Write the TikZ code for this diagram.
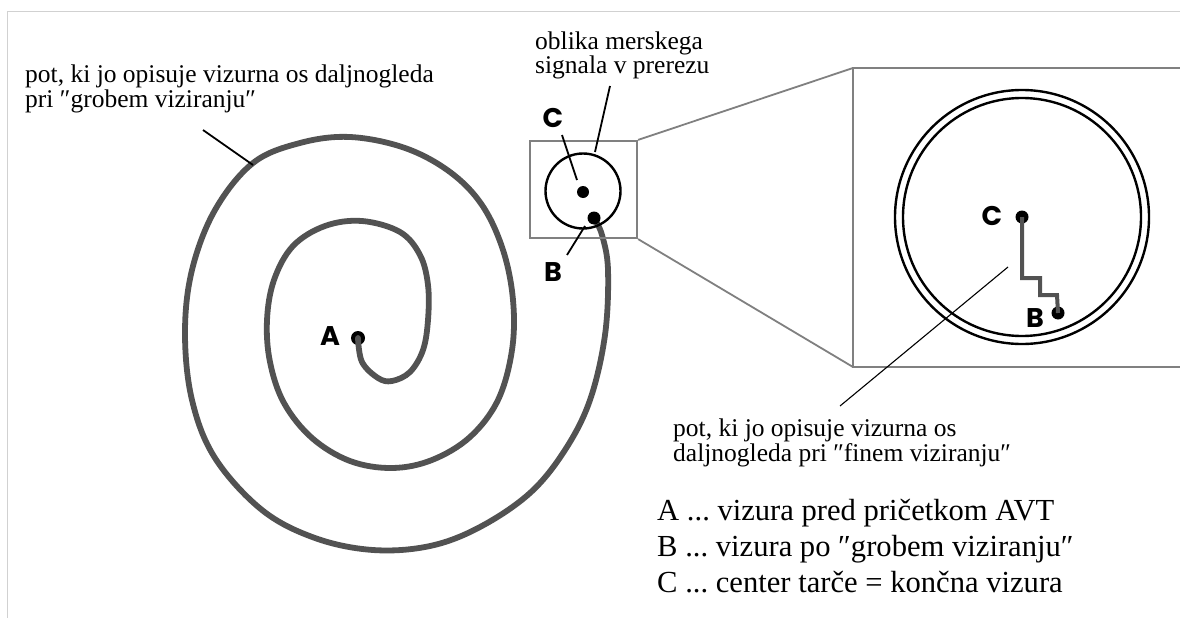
\documentclass[tikz,border=0pt]{standalone}
\usepackage{fontspec}
\setmainfont{Liberation Serif}
\newfontfamily\labfont{Poppins}
\frenchspacing
\begin{document}
\begin{tikzpicture}[x=1pt,y=-1pt,
  frame/.style={draw=black!18,line width=1.2pt},
  boxline/.style={draw=black!50,line width=2.2pt},
  spiral/.style={draw=black!68,line width=5.8pt,line cap=round,line join=round},
  fine/.style={draw=black!68,line width=4pt,line join=miter},
  ring/.style={draw=black,line width=2.4pt},
  leader/.style={draw=black,line width=1.8pt},
  thinleader/.style={draw=black,line width=1.1pt},
  dot/.style={circle,fill=black,inner sep=0pt,minimum size=14pt},
  lab/.style={font=\labfont\bfseries\fontsize{27}{27}\selectfont,inner sep=0pt},
  txt/.style={font=\fontsize{25.5}{24.5}\selectfont,align=left,inner sep=0pt},
  legend/.style={font=\fontsize{30.6}{36}\selectfont,align=left,inner sep=0pt}]
\useasboundingbox (0,0) rectangle (1180,618);
\fill[white] (0,0) rectangle (1180,618);
% frame
\draw[frame] (7.5,618) -- (7.5,11.5) -- (1180,11.5);

% spiral
\node[dot] (A) at (358,338) {};
\node[lab,anchor=center] (Alab) at (330,336) {A};
\draw[spiral] plot[smooth,tension=0.6] coordinates {
 (358,338) (362,362) (378,378) (392,381) (410,372) (423,350) (428,320) (428,285)
 (420,255) (400,232) (362,221) (325,226) (293,246) (274,280) (267,320) (270,362)
 (284,403) (312,438) (350,461) (392,468) (432,460) (470,437) (498,400) (512,350)
 (513,300) (503,250) (482,205) (450,172) (405,148) (350,137) (300,143) (253,163)
 (215,210) (192,270) (185,333) (192,400) (215,458) (262,510) (315,538) (373,550)
 (430,546) (480,527) (530,493) (565,450) (590,400) (605,335) (608,270) (602,235)
 (594,218)};

% top-left label
\node[txt,anchor=base west] (grob) at (25,107) {pot, ki jo opisuje vizurna os daljnogleda\\pri \char"2033grobem viziranju\char"2033};
\coordinate (g1) at (203,130);
\coordinate (g2) at (253,165);
\draw[leader] (g1) -- (g2);

% small box
\node[draw=black!50,line width=2.2pt,minimum width=107pt,minimum height=97pt,inner sep=0pt] (sbox) at (583.5,189.5) {};
\node[circle,ring,minimum size=75pt,inner sep=0pt] (scirc) at (583,191) {};
\node[dot,minimum size=12pt] (sC) at (583,192) {};
\node[dot,minimum size=13pt] (sB) at (594,218) {};
\node[lab] (sClab) at (553,118) {C};
\node[lab] (sBlab) at (553,272) {B};
\coordinate (c1) at (562,135); \coordinate (c2) at (577,180);
\draw[leader] (c1) -- (c2);
\coordinate (b1) at (567,255); \coordinate (b2) at (585,226);
\draw[leader] (b1) -- (b2);
\node[txt,anchor=base west] (obl) at (535,74) {oblika merskega\\signala v prerezu};
\coordinate (o1) at (610,86); \coordinate (o2) at (595,152);
\draw[leader] (o1) -- (o2);

% big box (cut off at right)
\coordinate (BT) at (853,68); \coordinate (BB) at (853,367);
\draw[boxline] (1182,68) -- (BT) -- (BB) -- (1182,367);
\draw[boxline,line width=1.8pt] (sbox.north east) -- (BT);
\draw[boxline,line width=1.8pt] (sbox.south east) -- (BB);
\node[circle,ring,minimum size=254pt,inner sep=0pt] (outer) at (1022,217) {};
\node[circle,ring,minimum size=238pt,inner sep=0pt] (inner) at (1022,217) {};
\node[dot,minimum size=13pt] (bC) at (1022,217) {};
\node[dot,minimum size=13pt] (bB) at (1058,313) {};
\node[lab] (bClab) at (992,216) {C};
\node[lab] (bBlab) at (1035,318) {B};
\draw[fine] (bC.center) -- (1022,278) -- (1040,278) -- (1040,295) -- (1057,295) -- (bB.center);
\coordinate (f1) at (1008,267); \coordinate (f2) at (840,406);
\draw[thinleader] (f1) -- (f2);
\node[txt,anchor=base west] (fin) at (673,461) {pot, ki jo opisuje vizurna os\\daljnogleda pri \char"2033finem viziranju\char"2033};

% legend
\node[legend,anchor=base west] (leg) at (657,592) {A ... vizura pred pričetkom AVT\\B ... vizura po \char"2033grobem viziranju\char"2033\\C ... center tarče = končna vizura};
\end{tikzpicture}
\end{document}
